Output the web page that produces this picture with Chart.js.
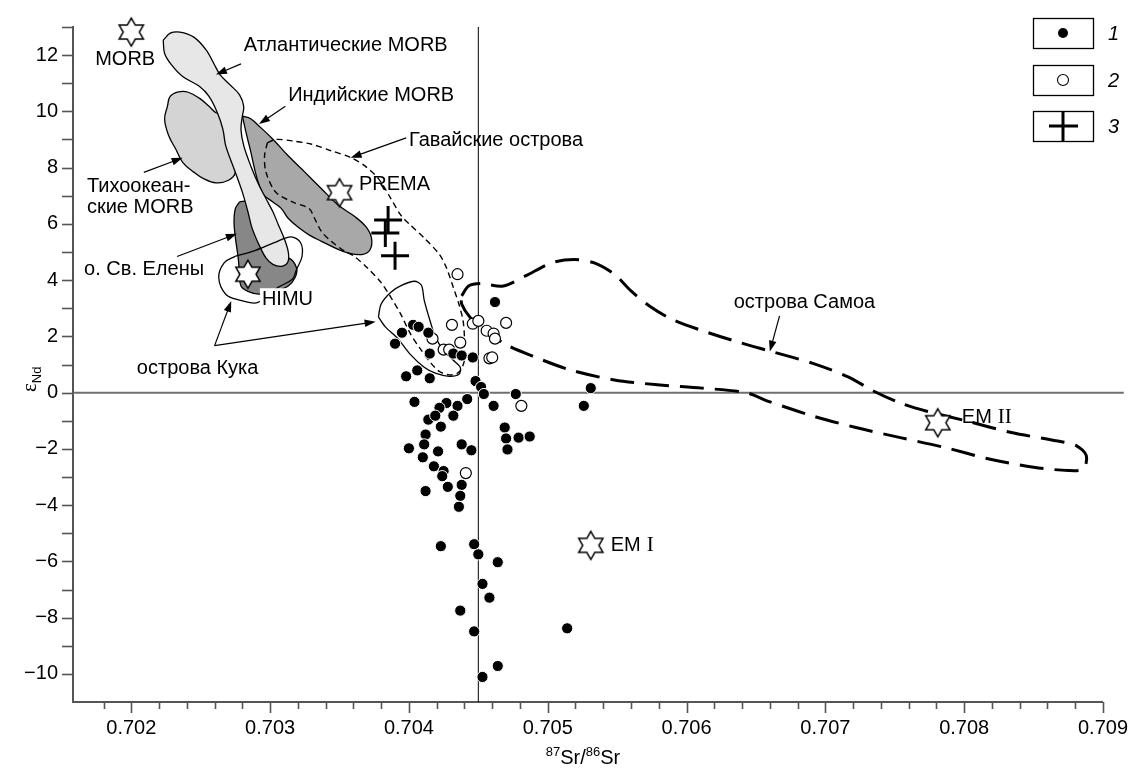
<!DOCTYPE html>
<html>
<head>
<meta charset="utf-8">
<script src="https://cdn.jsdelivr.net/npm/chart.js@4.4.1/dist/chart.umd.min.js"></script>
<style>
  html, body { margin: 0; padding: 0; background: #fff; }
  #wrap { width: 1142px; height: 768px; }
</style>
</head>
<body>
<div id="wrap"><canvas id="chart" width="1142" height="768"></canvas></div>
<script>
// ---- data (87Sr/86Sr vs eNd) ----
const group1Sr = [0.70462, 0.70403, 0.70407, 0.70395, 0.70414, 0.70390, 0.70415, 0.70432, 0.70438, 0.70446,
  0.70406, 0.70398, 0.70415, 0.70448, 0.70452, 0.70454, 0.70477, 0.70531, 0.70526, 0.70404,
  0.70442, 0.70435, 0.70427, 0.70422, 0.70461, 0.70432, 0.70414, 0.70419, 0.70423, 0.70469,
  0.70412, 0.70470, 0.70479, 0.70487, 0.70411, 0.70438, 0.70400, 0.70445, 0.70421, 0.70471,
  0.70410, 0.70418, 0.70425, 0.70424, 0.70438, 0.70428, 0.70412, 0.70437, 0.70436, 0.70423,
  0.70447, 0.70450, 0.70464, 0.70453, 0.70458, 0.70437, 0.70447, 0.70514, 0.70464, 0.70453];
const group1Nd = [3.22, 2.41, 2.34, 2.13, 2.13, 1.74, 1.39, 1.39, 1.32, 1.25,
  0.79, 0.58, 0.51, 0.41, 0.20, -0.05, -0.05, 0.16, -0.47, -0.33,
  -0.23, -0.47, -0.37, -0.54, -0.47, -0.82, -0.96, -0.82, -1.21, -1.24,
  -1.49, -1.63, -1.60, -1.56, -1.84, -1.84, -1.98, -2.05, -2.09, -2.02,
  -2.30, -2.62, -2.79, -2.97, -3.28, -3.35, -3.50, -3.67, -4.06, -5.46,
  -5.39, -5.75, -6.03, -6.80, -7.29, -7.75, -8.49, -8.38, -9.72, -10.11];

const group2Sr = [0.70435, 0.70431, 0.70446, 0.70450, 0.70470, 0.70456, 0.70461, 0.70462,
  0.70437, 0.70417, 0.70425, 0.70429, 0.70458, 0.70460, 0.70481, 0.70441];
const group2Nd = [4.21, 2.41, 2.45, 2.55, 2.48, 2.20, 2.10, 1.92,
  1.78, 1.92, 1.53, 1.53, 1.22, 1.25, -0.47, -2.86];

const group3Sr = [0.70385, 0.70383, 0.70390];
const group3Nd = [6.14, 5.68, 4.87];

const starNames = ['MORB', 'PREMA', 'HIMU', 'EM I', 'EM II'];
const starSr = [0.70200, 0.70350, 0.70284, 0.70531, 0.70781];
const starNd = [12.82, 7.11, 4.21, -5.43, -1.07];

// fields (outlines)
const atlanticSr = [0.70223, 0.70228, 0.70235, 0.70245, 0.70254, 0.70260, 0.70264, 0.70271, 0.70278, 0.70281,
  0.70280, 0.70279, 0.70281, 0.70286, 0.70292, 0.70297, 0.70302, 0.70306, 0.70310, 0.70313,
  0.70313, 0.70309, 0.70302, 0.70297, 0.70292, 0.70287, 0.70284, 0.70280, 0.70274, 0.70268,
  0.70266, 0.70262, 0.70256, 0.70249, 0.70237, 0.70229, 0.70224];
const atlanticNd = [12.53, 12.78, 12.82, 12.64, 12.18, 11.65, 11.30, 10.95, 10.59, 10.18,
  9.83, 9.36, 8.78, 8.07, 7.37, 6.90, 6.43, 5.96, 5.50, 5.02,
  4.67, 4.50, 4.56, 4.79, 5.26, 5.85, 6.43, 7.13, 7.96, 8.78,
  9.36, 9.95, 10.53, 10.89, 11.24, 11.65, 12.06];

const pacificSr = [0.70226, 0.70228, 0.70234, 0.70241, 0.70249, 0.70256, 0.70261, 0.70268, 0.70274, 0.70275,
  0.70270, 0.70261, 0.70252, 0.70245, 0.70237, 0.70232, 0.70227, 0.70224];
const pacificNd = [10.18, 10.53, 10.69, 10.68, 10.47, 10.18, 9.95, 9.83, 8.78, 7.84,
  7.55, 7.46, 7.61, 7.84, 8.19, 8.66, 9.13, 9.72];

const indianSr = [0.70280, 0.70286, 0.70292, 0.70302, 0.70313, 0.70325, 0.70337, 0.70349, 0.70361, 0.70369,
  0.70373, 0.70372, 0.70366, 0.70356, 0.70347, 0.70337, 0.70328, 0.70321, 0.70313, 0.70308,
  0.70302, 0.70294, 0.70285];
const indianNd = [9.83, 9.74, 9.48, 9.01, 8.42, 7.84, 7.25, 6.67, 6.26, 5.90,
  5.50, 5.08, 4.91, 4.97, 5.14, 5.38, 5.61, 5.85, 6.20, 6.55,
  6.78, 7.13, 8.78];

const helenaSr = [0.70278, 0.70284, 0.70287, 0.70292, 0.70304, 0.70313, 0.70319, 0.70318, 0.70313, 0.70304,
  0.70292, 0.70284, 0.70279, 0.70278, 0.70277, 0.70275, 0.70274, 0.70275];
const helenaNd = [6.78, 6.81, 6.67, 5.50, 4.67, 4.79, 4.44, 4.09, 3.79, 3.60,
  3.50, 3.60, 3.79, 4.21, 4.79, 5.50, 6.08, 6.55];

const cookASr = [0.70275, 0.70289, 0.70303, 0.70315, 0.70322, 0.70323, 0.70319, 0.70316, 0.70306, 0.70298,
  0.70290, 0.70278, 0.70268, 0.70263, 0.70267];
const cookANd = [4.85, 5.05, 5.33, 5.54, 5.33, 4.84, 4.38, 4.03, 3.75, 3.43,
  3.19, 3.29, 3.50, 4.09, 4.62];

const cookBSr = [0.70378, 0.70380, 0.70387, 0.70395, 0.70404, 0.70409, 0.70411, 0.70415, 0.70419, 0.70425,
  0.70432, 0.70437, 0.70436, 0.70429, 0.70419, 0.70411, 0.70401, 0.70392, 0.70383];
const cookBNd = [2.69, 3.15, 3.57, 3.82, 3.96, 3.82, 3.29, 2.59, 1.99, 1.50,
  1.15, 0.90, 0.65, 0.58, 0.69, 0.90, 1.36, 1.92, 2.34];

const hawaiiSr = [0.70298, 0.70304, 0.70316, 0.70330, 0.70344, 0.70358, 0.70368, 0.70378, 0.70387, 0.70394,
  0.70401, 0.70411, 0.70422, 0.70427, 0.70432, 0.70436, 0.70439, 0.70440, 0.70440, 0.70440,
  0.70438, 0.70435, 0.70429, 0.70422, 0.70416, 0.70408, 0.70401, 0.70394, 0.70387, 0.70380,
  0.70370, 0.70360, 0.70354, 0.70344, 0.70337, 0.70332, 0.70328, 0.70316, 0.70304, 0.70297,
  0.70296];
const hawaiiNd = [8.88, 9.00, 8.95, 8.83, 8.60, 8.36, 8.07, 7.61, 6.90, 6.32,
  5.96, 5.50, 4.91, 4.44, 3.74, 3.15, 2.56, 1.98, 1.51, 1.16,
  0.86, 0.69, 0.63, 0.75, 1.04, 1.57, 2.10, 2.80, 3.39, 3.91,
  4.44, 4.87, 5.02, 5.38, 5.73, 6.20, 6.55, 6.78, 7.13, 7.84,
  8.42];

const samoaSr = [0.70438, 0.70443, 0.70452, 0.70468, 0.70484, 0.70503, 0.70519, 0.70533, 0.70548, 0.70560,
  0.70573, 0.70589, 0.70611, 0.70637, 0.70662, 0.70691, 0.70716, 0.70735, 0.70754, 0.70773,
  0.70802, 0.70834, 0.70866, 0.70881, 0.70888, 0.70886, 0.70875, 0.70850, 0.70818, 0.70786,
  0.70754, 0.70722, 0.70691, 0.70659, 0.70643, 0.70611, 0.70579, 0.70548, 0.70516, 0.70490,
  0.70471, 0.70455, 0.70444, 0.70438];
const samoaNd = [3.44, 3.79, 3.88, 3.79, 4.15, 4.62, 4.73, 4.62, 4.21, 3.62,
  3.09, 2.62, 2.21, 1.80, 1.45, 1.04, 0.57, 0.05, -0.37, -0.66,
  -1.01, -1.42, -1.71, -1.89, -2.24, -2.71, -2.77, -2.65, -2.36, -1.95,
  -1.60, -1.24, -0.83, -0.31, 0.00, 0.16, 0.28, 0.45, 0.81, 1.28,
  1.68, 2.21, 2.68, 3.15];

// text labels on the plot
const noteTexts = ['MORB', 'Атлантические MORB', 'Индийские MORB', 'Гавайские острова', 'PREMA',
  'Тихоокеан-', 'ские MORB', 'о. Св. Елены', 'острова Кука', 'острова Самоа'];
const noteSr = [0.70174, 0.70281, 0.70313, 0.70400, 0.70364, 0.70168, 0.70168, 0.70166, 0.70204, 0.70634];
const noteNd = [11.84, 12.36, 10.57, 8.95, 7.41, 7.33, 6.60, 4.38, 0.86, 3.22];

const arrowFromSr = [0.70279, 0.70311, 0.70398, 0.70209, 0.70233, 0.70260, 0.70260, 0.70667];
const arrowFromNd = [11.69, 10.18, 9.06, 7.83, 4.84, 1.67, 1.67, 2.73];
const arrowToSr = [0.70261, 0.70292, 0.70358, 0.70237, 0.70276, 0.70272, 0.70376, 0.70660];
const arrowToNd = [11.31, 9.55, 8.35, 8.35, 5.65, 3.26, 2.52, 1.46];

const srMajorTicks = [0.702, 0.703, 0.704, 0.705, 0.706, 0.707, 0.708, 0.709];
const ndMajorTicks = [-10, -8, -6, -4, -2, 0, 2, 4, 6, 8, 10, 12];
const legendLabels = ['1', '2', '3'];

const FONT = "'Liberation Sans', Arial, sans-serif";
const SERIF = "'Liberation Serif', 'Times New Roman', serif";

function pairs(xs, ys) { return xs.map((x, i) => ({ x: x, y: ys[i] })); }
function loop(xs, ys) { const p = pairs(xs, ys); p.push(p[0]); return p; }

function makeStar(R) {
  const c = document.createElement('canvas');
  const s = Math.ceil(R * 2 + 4);
  c.width = s; c.height = s;
  const g = c.getContext('2d');
  const r = R / Math.sqrt(3);
  g.beginPath();
  for (let k = 0; k < 12; k++) {
    const a = -Math.PI / 2 + k * Math.PI / 6;
    const rr = k % 2 === 0 ? R : r;
    const px = s / 2 + rr * Math.cos(a), py = s / 2 + rr * Math.sin(a);
    if (k === 0) g.moveTo(px, py); else g.lineTo(px, py);
  }
  g.closePath();
  g.fillStyle = '#fff'; g.fill();
  g.lineWidth = 1.5; g.strokeStyle = '#000'; g.stroke();
  return c;
}
const starImg = makeStar(14);

function field(label, xs, ys, color, order, extra) {
  return Object.assign({
    label: label,
    data: loop(xs, ys),
    showLine: true,
    fill: color ? 'shape' : false,
    backgroundColor: color || 'rgba(0,0,0,0)',
    borderColor: '#000',
    borderWidth: 1.3,
    pointRadius: 0,
    pointHoverRadius: 0,
    tension: 0.4,
    order: order
  }, extra || {});
}

function isMajor(list, v) { return list.some(m => Math.abs(m - v) < 1e-7); }

function drawArrow(ctx, x1, y1, x2, y2) {
  const a = Math.atan2(y2 - y1, x2 - x1);
  const L = 11, W = 3.8;
  ctx.beginPath();
  ctx.moveTo(x1, y1);
  ctx.lineTo(x2 - Math.cos(a) * L * 0.7, y2 - Math.sin(a) * L * 0.7);
  ctx.stroke();
  ctx.beginPath();
  ctx.moveTo(x2, y2);
  ctx.lineTo(x2 - L * Math.cos(a) + W * Math.sin(a), y2 - L * Math.sin(a) - W * Math.cos(a));
  ctx.lineTo(x2 - L * Math.cos(a) - W * Math.sin(a), y2 - L * Math.sin(a) + W * Math.cos(a));
  ctx.closePath();
  ctx.fill();
}

const decorations = {
  id: 'decorations',
  afterDatasetsDraw(chart) {
    const { ctx, scales: { x, y } } = chart;
    ctx.save();
    ctx.fillStyle = '#000';
    ctx.strokeStyle = '#000';
    ctx.lineWidth = 1.2;
    arrowFromSr.forEach((v, i) => {
      drawArrow(ctx, x.getPixelForValue(v), y.getPixelForValue(arrowFromNd[i]),
        x.getPixelForValue(arrowToSr[i]), y.getPixelForValue(arrowToNd[i]));
    });
    ctx.font = '20px ' + FONT;
    ctx.textBaseline = 'middle';
    ctx.textAlign = 'left';
    noteTexts.forEach((t, i) => {
      ctx.fillText(t, x.getPixelForValue(noteSr[i]), y.getPixelForValue(noteNd[i]));
    });
    // HIMU label sits on a white patch
    const hx = x.getPixelForValue(starSr[2]) + 14, hy = y.getPixelForValue(starNd[2]) + 25;
    const hw = ctx.measureText('HIMU').width;
    ctx.fillStyle = '#fff';
    ctx.fillRect(hx - 2, hy - 11, hw + 4, 22);
    ctx.fillStyle = '#000';
    ctx.fillText('HIMU', hx, hy);
    // EM labels: sans "EM", serif numerals
    [3, 4].forEach(i => {
      const parts = starNames[i].split(' ');
      let px = x.getPixelForValue(starSr[i]) + (i === 3 ? 20 : 24);
      const py = y.getPixelForValue(starNd[i]) + (i === 3 ? 0 : -5);
      ctx.font = '20px ' + FONT;
      ctx.fillText(parts[0], px, py);
      px += ctx.measureText(parts[0]).width + 6;
      ctx.font = '21px ' + SERIF;
      ctx.fillText(parts[1], px, py);
    });
    ctx.restore();
  },
  afterDraw(chart) {
    const { ctx, chartArea: a, scales: { x, y } } = chart;
    ctx.save();
    ctx.strokeStyle = '#555';
    ctx.lineWidth = 1.6;
    x.ticks.forEach(t => {
      const px = Math.round(x.getPixelForValue(t.value)) + 0.5;
      ctx.beginPath();
      ctx.moveTo(px, a.bottom);
      ctx.lineTo(px, a.bottom + (isMajor(srMajorTicks, t.value) ? 11 : 7));
      ctx.stroke();
    });
    y.ticks.forEach(t => {
      const py = Math.round(y.getPixelForValue(t.value)) + 0.5;
      ctx.beginPath();
      ctx.moveTo(a.left, py);
      ctx.lineTo(a.left - 11, py);
      ctx.stroke();
    });
    // axis titles
    ctx.fillStyle = '#000';
    ctx.textBaseline = 'alphabetic';
    const big = '20px ' + FONT, small = '13px ' + FONT;
    const parts = [['87', small, -8], ['Sr/', big, 0], ['86', small, -8], ['Sr', big, 0]];
    let w = 0;
    parts.forEach(p => { ctx.font = p[1]; w += ctx.measureText(p[0]).width; });
    let cx = 583 - w / 2;
    parts.forEach(p => { ctx.font = p[1]; ctx.fillText(p[0], cx, 764 + p[2]); cx += ctx.measureText(p[0]).width; });
    ctx.save();
    ctx.translate(36, 392);
    ctx.rotate(-Math.PI / 2);
    ctx.font = '21px ' + SERIF;
    ctx.fillText('\u03b5', 0, 0);
    const ew = ctx.measureText('\u03b5').width;
    ctx.font = '13px ' + FONT;
    ctx.fillText('Nd', ew, 5);
    ctx.restore();
    // legend
    const boxTops = [18, 65, 111];
    ctx.lineWidth = 1.3;
    ctx.strokeStyle = '#000';
    boxTops.forEach((top, i) => {
      ctx.strokeRect(1033.5, top + 0.5, 60, 30);
      const cy = top + 15;
      if (i === 0) {
        ctx.beginPath(); ctx.arc(1063, cy, 5, 0, Math.PI * 2); ctx.fill();
      } else if (i === 1) {
        ctx.beginPath(); ctx.arc(1063, cy, 5.5, 0, Math.PI * 2); ctx.lineWidth = 1.1; ctx.stroke(); ctx.lineWidth = 1.3;
      } else {
        ctx.lineWidth = 3;
        ctx.beginPath(); ctx.moveTo(1049, cy); ctx.lineTo(1078, cy); ctx.moveTo(1063, top); ctx.lineTo(1063, top + 30); ctx.stroke();
        ctx.lineWidth = 1.3;
      }
      ctx.font = 'italic 20px ' + FONT;
      ctx.textBaseline = 'middle';
      ctx.fillText(legendLabels[i], 1108, cy + 1);
    });
    ctx.restore();
  }
};

new Chart(document.getElementById('chart'), {
  type: 'scatter',
  data: {
    datasets: [
      { label: 'zero', data: [{ x: 0.70158, y: 0 }, { x: 0.70915, y: 0 }], showLine: true, borderColor: '#6f6f6f',
        borderWidth: 2, pointRadius: 0, clip: false, order: 30 },
      { label: 'sr', data: [{ x: 0.7045, y: -11 }, { x: 0.7045, y: 13 }], showLine: true, borderColor: '#000',
        borderWidth: 1, pointRadius: 0, order: 29 },
      field('Тихоокеанские MORB', pacificSr, pacificNd, '#d4d4d4', 25),
      field('Индийские MORB', indianSr, indianNd, '#a8a8a8', 24),
      field('о. Св. Елены', helenaSr, helenaNd, '#878787', 23, { tension: 0.35 }),
      field('Атлантические MORB', atlanticSr, atlanticNd, '#e7e7e7', 22, { tension: 0.35 }),
      field('Гавайские острова', hawaiiSr, hawaiiNd, null, 21, { borderDash: [6, 4], borderWidth: 1.4, tension: 0.3 }),
      field('острова Кука A', cookASr, cookANd, null, 20, { tension: 0.35 }),
      field('острова Кука B', cookBSr, cookBNd, null, 19, { tension: 0.3 }),
      field('острова Самоа', samoaSr, samoaNd, null, 18, { borderDash: [24, 11], borderWidth: 3, tension: 0.3 }),
      { label: 'stars', data: pairs(starSr, starNd), pointStyle: starImg, pointRadius: 14, clip: false, order: 3 },
      { label: '3', data: pairs(group3Sr, group3Nd), pointStyle: 'cross', pointRadius: 14,
        borderColor: '#000', borderWidth: 3, order: 2 },
      { label: '2', data: pairs(group2Sr, group2Nd), pointRadius: 5.5, backgroundColor: '#fff',
        borderColor: '#000', borderWidth: 1.2, order: 1 },
      { label: '1', data: pairs(group1Sr, group1Nd), pointRadius: 5.6, backgroundColor: '#000',
        borderColor: '#fff', borderWidth: 1, order: 0 }
    ]
  },
  options: {
    responsive: false,
    animation: false,
    devicePixelRatio: 1,
    layout: { padding: { top: 19, right: 28, left: 0, bottom: 0 } },
    plugins: { legend: { display: false }, tooltip: { enabled: false } },
    scales: {
      x: {
        type: 'linear', min: 0.70158, max: 0.709,
        afterBuildTicks(scale) {
          const t = [];
          for (let k = 3509; k <= 3545; k++) t.push({ value: +(k * 0.0002).toFixed(4) });
          scale.ticks = t;
        },
        afterFit(scale) { scale.height = 66; },
        grid: { display: false, drawTicks: false },
        border: { display: true, color: '#555', width: 2 },
        ticks: {
          autoSkip: false, maxRotation: 0, padding: 14, color: '#000',
          font: { family: FONT, size: 20 },
          callback: v => isMajor(srMajorTicks, v) ? v.toFixed(3) : ''
        }
      },
      y: {
        type: 'linear', min: -11, max: 13,
        afterBuildTicks(scale) {
          const t = [];
          for (let v = -10; v <= 13; v++) t.push({ value: v });
          scale.ticks = t;
        },
        afterFit(scale) { scale.width = 73; },
        grid: { display: false, drawTicks: false },
        border: { display: true, color: '#555', width: 2 },
        ticks: {
          autoSkip: false, padding: 15, color: '#000',
          font: { family: FONT, size: 20 },
          callback: v => ndMajorTicks.includes(v) ? (v < 0 ? '\u2212' + Math.abs(v) : String(v)) : ''
        }
      }
    }
  },
  plugins: [decorations]
});
</script>
</body>
</html>
